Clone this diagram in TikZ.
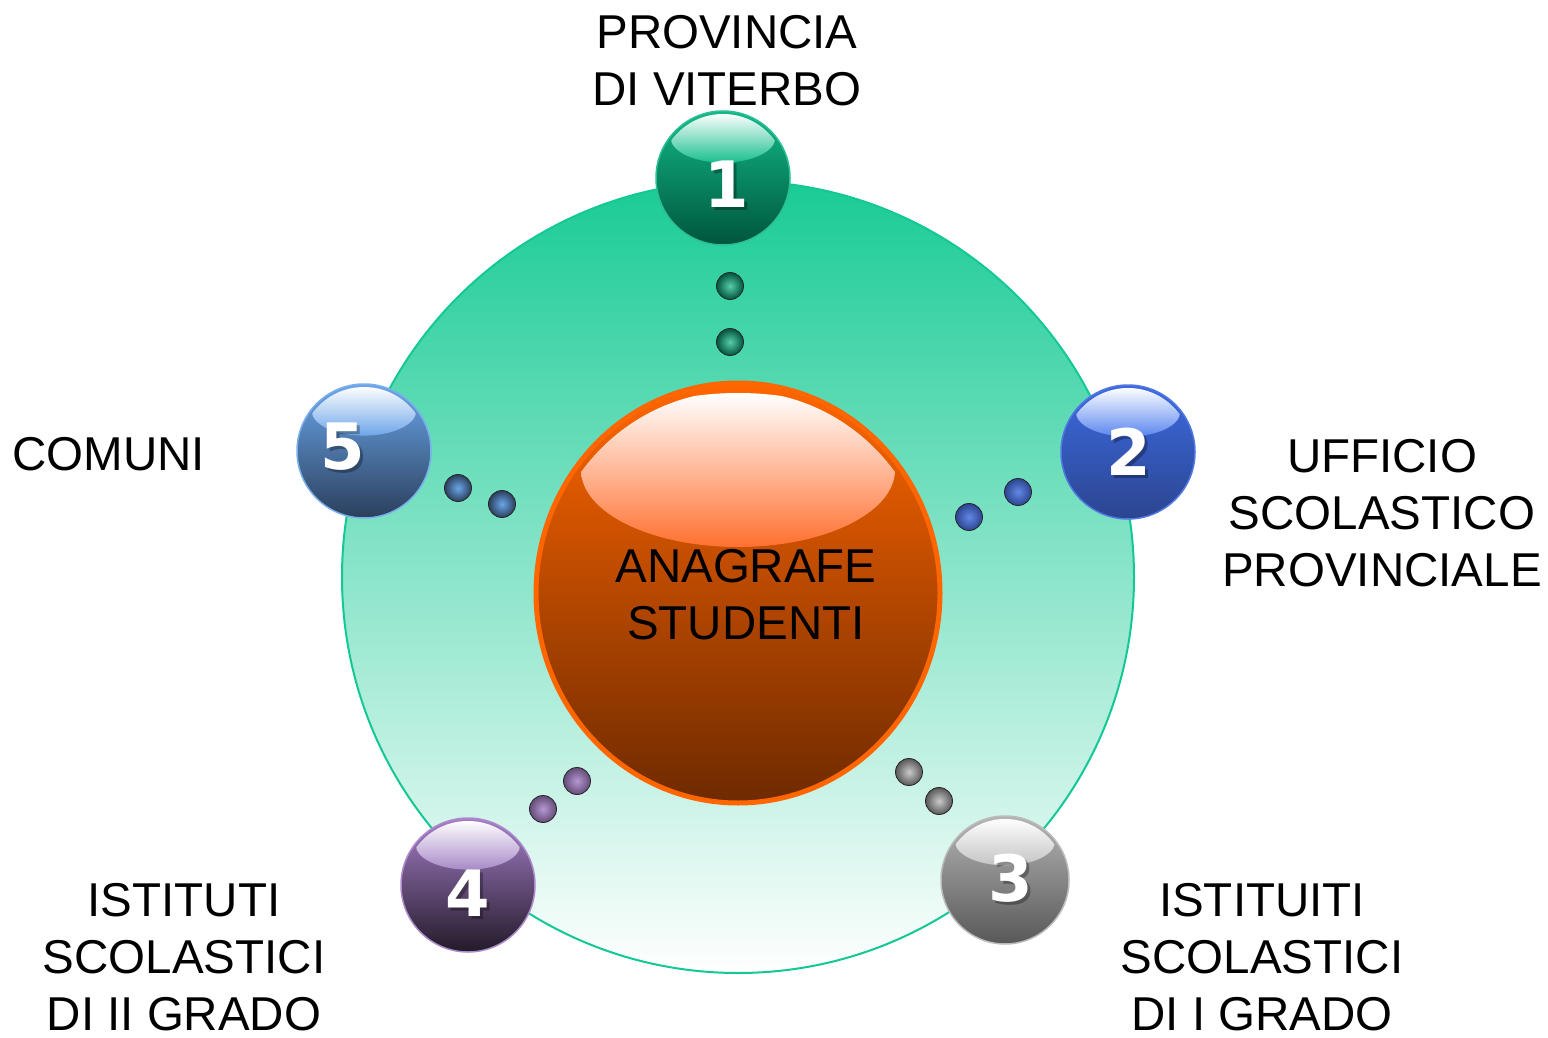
\documentclass[tikz,border=0pt]{standalone}
\usepackage{fontspec}
\setmainfont{Liberation Sans}
\newfontfamily\digitfont{DejaVu Sans}
\usetikzlibrary{shapes.geometric}
\definecolor{ringteal}{HTML}{14C896}
\definecolor{ringtop}{HTML}{19CB96}
\definecolor{orgtop}{HTML}{FF6600}
\definecolor{orgmid}{HTML}{CC5200}
\definecolor{orgbot}{HTML}{6E2A00}
\definecolor{orghl}{HTML}{FF7030}
\definecolor{gtop}{HTML}{12B888}
\definecolor{gbot}{HTML}{00553C}
\definecolor{ghl}{HTML}{1ABF90}
\definecolor{btop}{HTML}{3D6AE0}
\definecolor{bbot}{HTML}{2B4590}
\definecolor{bhl}{HTML}{5A85F0}
\definecolor{stop}{HTML}{B4B4B4}
\definecolor{sbot}{HTML}{585858}
\definecolor{shl}{HTML}{C4C4C4}
\definecolor{ptop}{HTML}{A57EC8}
\definecolor{pbot}{HTML}{221A28}
\definecolor{phl}{HTML}{A88AC8}
\definecolor{ltop}{HTML}{6AA6EA}
\definecolor{lbot}{HTML}{2B3F5C}
\definecolor{lhl}{HTML}{6EA6E8}
\tikzset{
  lbl/.style={font=\fontsize{47.5}{57}\selectfont, align=center, inner sep=0pt, text=black},
  numtxt/.style={font=\digitfont\bfseries\fontsize{64}{64}\selectfont, inner sep=0pt, text=white},
  numshadow/.style={font=\digitfont\bfseries\fontsize{64}{64}\selectfont, inner sep=0pt, text=black, opacity=0.3},
  dotball/.style={circle, minimum size=27pt, inner sep=0pt, draw=black!85, line width=0.8pt},
}
% \ballsphere{name}{x}{y}{R}{top}{bottom}{highlight}
\newcommand{\ballsphere}[7]{%
  \node[circle, inner sep=0pt, minimum size=2*#4pt, top color=#5, bottom color=#6, draw=#5!90!white, line width=1.5pt] (#1) at (#2,#3) {};
  \begin{scope}
    \clip (#2,#3) circle[radius=#4-3];
    \shade[top color=white, bottom color=#7] (#2,{#3-0.6*#4}) ellipse[x radius={0.78*#4}, y radius={0.37*#4}];
  \end{scope}
}
\newcommand{\ballnumber}[4]{%
  \node[numshadow] (#1s) at ({#2+3},{#3+3}) {#4};
  \node[numtxt] (#1) at (#2,#3) {#4};
}
\begin{document}
\begin{tikzpicture}[x=1pt,y=-1pt]
\useasboundingbox (0,0) rectangle (1548,1038);
% big ring
\node[circle, inner sep=0pt, minimum size=792pt, top color=ringtop, bottom color=white, draw=ringteal, line width=2pt] (ring) at (738,577) {};
% small dots
\node[dotball, inner color=gtop!70!white, outer color=gbot] (g1) at (730,286) {};
\node[dotball, inner color=gtop!70!white, outer color=gbot] (g2) at (730,342) {};
\node[dotball, inner color=ltop, outer color=lbot] (l1) at (458,488) {};
\node[dotball, inner color=ltop, outer color=lbot] (l2) at (502,504) {};
\node[dotball, inner color=btop!80!white, outer color=bbot] (b1) at (1018,492) {};
\node[dotball, inner color=btop!80!white, outer color=bbot] (b2) at (969,517) {};
\node[dotball, inner color=ptop!80!white, outer color=ptop!50!pbot] (p1) at (577,781) {};
\node[dotball, inner color=ptop!80!white, outer color=ptop!50!pbot] (p2) at (543,809) {};
\node[dotball, inner color=stop!70!white, outer color=sbot] (s1) at (909,772) {};
\node[dotball, inner color=stop!70!white, outer color=sbot] (s2) at (939,801) {};
% orange centre
\node[ellipse, inner sep=0pt, minimum width=404pt, minimum height=420pt, top color=orgtop, middle color=orgmid, bottom color=orgbot, draw=orgtop, line width=5pt] (core) at (738,593) {};
\begin{scope}
  \clip (738,593) ellipse[x radius=196, y radius=202];
  \shade[top color=white, bottom color=orghl] (738,470) ellipse[x radius=157, y radius=77];
\end{scope}
\node[lbl] (coretext) at (746,594.5) {ANAGRAFE\\STUDENTI};
% satellite spheres
\ballsphere{one}{723}{178}{67}{gtop}{gbot}{ghl}
\ballsphere{two}{1128}{452}{67}{btop}{bbot}{bhl}
\ballsphere{three}{1005}{880}{64}{stop}{sbot}{shl}
\ballsphere{four}{468}{885}{67}{ptop}{pbot}{phl}
\ballsphere{five}{364}{451}{67}{ltop}{lbot}{lhl}
\ballnumber{n1}{727}{184}{1}
\ballnumber{n2}{1129}{452}{2}
\ballnumber{n3}{1011}{878}{3}
\ballnumber{n4}{468}{893}{4}
\ballnumber{n5}{343}{447}{5}
% labels
\node[lbl] (t1) at (727,61) {PROVINCIA\\DI VITERBO};
\node[lbl] (t2) at (1382,513) {UFFICIO\\SCOLASTICO\\PROVINCIALE};
\node[lbl] (t3) at (1262,957) {ISTITUITI\\SCOLASTICI\\DI I GRADO};
\node[lbl] (t4) at (184,957) {ISTITUTI\\SCOLASTICI\\DI II GRADO};
\node[lbl] (t5) at (108.5,454) {COMUNI};
\end{tikzpicture}
\end{document}
